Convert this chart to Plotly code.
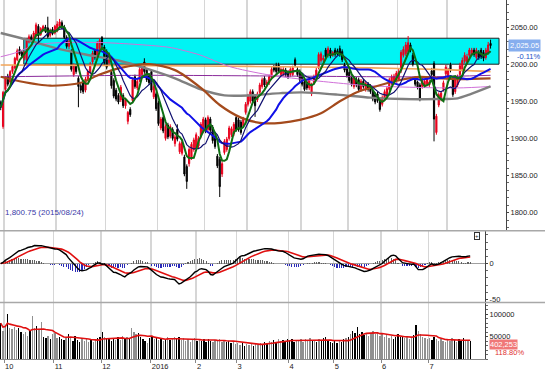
import plotly.graph_objects as go
import pandas as pd

# ---------------- data ----------------
month_labels = ["10", "11", "12", "2016", "2", "3", "4", "5", "6", "7"]
month_start = [2, 24, 45, 67, 87, 105, 128, 148, 169, 190]

opens = [1948, 1916,
         1966, 1984, 1976, 1990, 1995, 2006, 2020, 2016, 2009, 2006, 2030, 2037, 2033, 2038, 2051, 2040, 2046, 2050, 2049, 2039, 2047, 2042,
         2045, 2051, 2056, 2050, 2036, 2024, 2016, 1986, 1997, 1981, 1971, 1975, 1965, 1980, 1989, 2003, 2019, 2012, 2021, 2036, 2023,
         2017, 2002, 1989, 1978, 1965, 1958, 1952, 1958, 1944, 1923, 1939, 1951, 1983, 1968, 1978, 1986, 2003, 1992, 1985, 1990, 1956, 1960,
         1948, 1914, 1928, 1900, 1918, 1903, 1912, 1893, 1912, 1882, 1880, 1875, 1862, 1866, 1874, 1885, 1887, 1890, 1903, 1910,
         1925, 1912, 1926, 1915, 1903, 1876, 1872, 1852, 1881, 1885, 1900, 1905, 1906, 1928, 1925, 1922, 1917, 1935,
         1946, 1950, 1963, 1956, 1952, 1962, 1970, 1981, 1972, 1975, 1982, 1996, 1998, 1999, 1986, 1987, 1992, 1989, 1986, 1986, 2006, 1993, 1990,
         1985, 1976, 1976, 1968, 1960, 1975, 1982, 1995, 2005, 2006, 2019, 2012, 2019, 2012, 2019, 2018, 2021, 2017, 1999, 1994,
         1989, 1982, 1970, 1980, 1979, 1966, 1977, 1966, 1973, 1970, 1963, 1959, 1960, 1952, 1946, 1953, 1957, 1966, 1975, 1976, 1978,
         1980, 1991, 2012, 2014, 2017, 2026, 2012, 1981, 1976, 1972, 1970, 1970, 1973, 1972, 1991, 2001, 1908, 1945, 1953, 1966, 1987,
         1982, 1999, 1979, 1963, 1972, 1986, 1993, 2004, 2003, 2012, 2013, 2019, 2009, 2016, 2019, 2016, 2009, 2016, 2028]
highs = [1951, 1964,
         1984, 1987, 1992, 1999, 2010, 2021, 2024, 2019, 2018, 2035, 2040, 2040, 2045, 2056, 2054, 2050, 2053, 2053, 2064, 2048, 2050, 2053,
         2058, 2061, 2059, 2053, 2039, 2034, 2020, 2001, 2000, 1984, 1974, 1978, 1983, 1993, 2003, 2018, 2021, 2031, 2035, 2038, 2026,
         2020, 2016, 1992, 1981, 1968, 1961, 1972, 1961, 1955, 1937, 1942, 1982, 1986, 1980, 1996, 1998, 2008, 1995, 1988, 1993, 1973, 1963,
         1951, 1929, 1931, 1919, 1921, 1919, 1915, 1905, 1919, 1896, 1898, 1878, 1865, 1888, 1895, 1901, 1908, 1903, 1922, 1929,
         1928, 1931, 1929, 1918, 1906, 1879, 1875, 1869, 1899, 1902, 1917, 1916, 1922, 1931, 1928, 1925, 1929, 1949,
         1960, 1966, 1966, 1959, 1963, 1975, 1982, 1984, 1979, 1986, 1996, 1999, 2002, 2002, 1996, 1996, 1995, 1992, 1996, 1998, 2009, 1996, 1993,
         1988, 1979, 1979, 1982, 1975, 1986, 1995, 2016, 2017, 2012, 2022, 2024, 2022, 2018, 2022, 2021, 2025, 2020, 2002, 1997,
         1992, 1985, 1984, 1983, 1982, 1980, 1980, 1977, 1976, 1973, 1966, 1962, 1963, 1955, 1958, 1966, 1970, 1982, 1986, 1987, 1991,
         1994, 2019, 2024, 2030, 2038, 2029, 2015, 1984, 1978, 1975, 1983, 1980, 1983, 1979, 1995, 2004, 1933, 1962, 1964, 1978, 1999,
         1995, 2002, 1982, 1982, 1986, 2002, 2009, 2016, 2014, 2022, 2022, 2022, 2022, 2019, 2022, 2019, 2022, 2030, 2033]
lows = [1938, 1913,
        1963, 1970, 1974, 1987, 1993, 2004, 2012, 2008, 2005, 2000, 2028, 2029, 2031, 2036, 2030, 2038, 2044, 2042, 2035, 2036, 2039, 2040,
        2043, 2049, 2047, 2034, 2021, 2020, 1990, 1983, 1987, 1942, 1961, 1960, 1962, 1977, 1986, 2000, 2006, 2010, 2018, 2022, 1998,
        1993, 1999, 1967, 1954, 1950, 1946, 1949, 1941, 1940, 1919, 1929, 1948, 1967, 1965, 1976, 1984, 1987, 1976, 1972, 1962, 1953, 1937,
        1917, 1911, 1907, 1897, 1899, 1900, 1897, 1889, 1896, 1879, 1877, 1849, 1832, 1862, 1871, 1882, 1884, 1887, 1900, 1907,
        1907, 1909, 1908, 1893, 1886, 1860, 1821, 1848, 1878, 1882, 1897, 1902, 1903, 1909, 1909, 1905, 1914, 1932,
        1943, 1947, 1947, 1929, 1949, 1959, 1967, 1969, 1969, 1972, 1979, 1989, 1986, 1988, 1983, 1984, 1983, 1980, 1983, 1984, 1996, 1983, 1976,
        1970, 1964, 1965, 1965, 1957, 1972, 1979, 1993, 2002, 2003, 2008, 2009, 2008, 2010, 2010, 2012, 2010, 2003, 1989, 1982,
        1975, 1970, 1967, 1969, 1963, 1963, 1967, 1963, 1963, 1960, 1950, 1946, 1948, 1936, 1943, 1950, 1955, 1963, 1972, 1973, 1975,
        1977, 1988, 2009, 2011, 2014, 2016, 1997, 1970, 1966, 1950, 1967, 1968, 1970, 1969, 1983, 1896, 1905, 1942, 1950, 1963, 1984,
        1979, 1989, 1956, 1960, 1969, 1983, 1990, 2001, 2000, 2009, 2011, 2010, 2007, 2006, 2007, 2004, 2006, 2013, 2021]
closes = [1942, 1962,
          1982, 1973, 1990, 1997, 2008, 2018, 2014, 2011, 2016, 2033, 2037, 2031, 2042, 2053, 2038, 2048, 2051, 2044, 2037, 2046, 2041, 2051,
          2054, 2057, 2050, 2036, 2024, 2031, 1993, 1999, 1990, 1970, 1965, 1963, 1980, 1990, 2000, 2015, 2009, 2028, 2032, 2026, 2002,
          1996, 2013, 1971, 1957, 1953, 1949, 1969, 1944, 1952, 1935, 1932, 1979, 1970, 1977, 1993, 1995, 1990, 1979, 1975, 1965, 1970, 1940,
          1920, 1926, 1910, 1916, 1902, 1916, 1900, 1902, 1899, 1893, 1895, 1852, 1842, 1885, 1892, 1898, 1905, 1900, 1919, 1926,
          1910, 1928, 1911, 1897, 1889, 1863, 1835, 1866, 1896, 1899, 1914, 1913, 1919, 1912, 1912, 1908, 1926, 1946,
          1957, 1963, 1950, 1944, 1960, 1972, 1979, 1972, 1976, 1983, 1993, 1992, 1990, 1990, 1993, 1993, 1986, 1983, 1993, 1995, 1999, 1986, 1979,
          1973, 1966, 1968, 1979, 1972, 1983, 1992, 2013, 2014, 2008, 2010, 2021, 2011, 2016, 2013, 2015, 2014, 2006, 1992, 1985,
          1978, 1973, 1981, 1972, 1966, 1977, 1970, 1974, 1966, 1963, 1953, 1949, 1951, 1939, 1955, 1963, 1967, 1979, 1983, 1984, 1988,
          1990, 2016, 2020, 2026, 2029, 2019, 2000, 1973, 1969, 1953, 1980, 1977, 1980, 1976, 1986, 1926, 1930, 1959, 1961, 1975, 1996,
          1992, 1993, 1959, 1979, 1982, 1998, 2005, 2012, 2010, 2019, 2019, 2013, 2019, 2009, 2010, 2008, 2019, 2026, 2025.05]
volumes = [80000, 62000,
           75000, 101000, 70000, 66000, 72000, 64000, 70000, 60000, 55000, 60000, 52000, 63000, 95000, 70000, 74000, 66000, 82000, 50000, 46000, 52000, 44000, 56000,
           58000, 47000, 50000, 44000, 42000, 46000, 55000, 48000, 40000, 52000, 43000, 38000, 46000, 41000, 44000, 39000, 45000, 37000, 42000, 46000, 48000,
           60000, 50000, 44000, 47000, 40000, 45000, 42000, 48000, 43000, 52000, 47000, 50000, 44000, 68000, 61000, 55000, 58000, 50000, 45000, 40000, 35000, 47000,
           52000, 45000, 49000, 43000, 46000, 40000, 44000, 48000, 42000, 46000, 50000, 44000, 48000, 42000, 46000, 40000, 44000, 38000, 43000, 47000,
           41000, 45000, 40000, 44000, 39000, 45000, 41000, 38000, 43000, 40000, 44000, 38000, 42000, 37000, 41000, 36000, 40000, 34000,
           36000, 32000, 35000, 30000, 34000, 31000, 33000, 29000, 35000, 32000, 36000, 33000, 38000, 35000, 40000, 37000, 42000, 38000, 44000, 40000, 43000, 39000, 45000,
           41000, 44000, 38000, 43000, 40000, 45000, 39000, 44000, 42000, 46000, 40000, 43000, 38000, 44000, 40000, 46000, 48000, 42000, 38000, 36000,
           40000, 35000, 41000, 38000, 44000, 46000, 50000, 56000, 62000, 58000, 72000, 55000, 60000, 54000, 58000, 52000, 57000, 62000, 55000, 60000, 52000,
           58000, 50000, 54000, 46000, 51000, 45000, 49000, 55000, 48000, 52000, 46000, 50000, 44000, 48000, 53000, 76000, 62000, 55000, 50000, 47000, 44000,
           46000, 42000, 48000, 44000, 40000, 45000, 41000, 38000, 44000, 40000, 46000, 42000, 38000, 44000, 40000, 46000, 41000, 43000, 40000]

# long moving averages (bar index, value)
gray_idx = [0, 11, 23, 36, 50, 63, 74, 85, 95, 106, 119, 128, 143, 157, 171, 185, 194, 199, 208]
gray_val = [2042, 2033, 2022, 2013, 2005, 1993, 1981, 1966, 1958, 1958, 1961, 1962, 1959, 1955, 1953, 1953, 1954, 1959, 1970]
brown_idx = [0, 8, 21, 34, 42, 51, 63, 74, 85, 93, 102, 110, 119, 127, 136, 144, 151, 157, 170, 178, 187, 195, 208]
brown_val = [1983, 1977, 1971, 1975, 1986, 1995, 2000, 1992, 1968, 1945, 1928, 1921, 1921, 1925, 1934, 1950, 1962, 1968, 1979, 1983, 1981, 1980, 1981]
magenta_idx = [0, 6, 15, 25, 44, 71, 77, 85, 97, 113, 127, 157, 194, 208]
magenta_val = [2010, 2015, 2026, 2029, 2029, 2023, 2019, 2012, 1997, 1986, 1980, 1971, 1968, 1970]
purple_idx = [0, 60, 120, 180, 208]
purple_val = [1983, 1985, 1984, 1983, 1985]
orange_idx = [0, 63, 106, 157, 185, 208]
orange_val = [1999, 1998, 1997, 1995, 1993, 1990]

box_low, box_high = 2000, 2035
box_start = 9.8

# ---------------- derived indicators ----------------
idx = list(range(len(closes)))
cs = pd.Series(closes, dtype=float)
ma5 = cs.rolling(5, min_periods=1).mean()
ma10 = cs.rolling(10, min_periods=1).mean()
ma25 = cs.rolling(25, min_periods=1).mean()
ema_fast = cs.ewm(span=12, adjust=False).mean()
ema_slow = cs.ewm(span=26, adjust=False).mean()
macd = ema_fast - ema_slow
signal = macd.ewm(span=9, adjust=False).mean()
hist = macd - signal
vol_ma = pd.Series(volumes, dtype=float).rolling(10, min_periods=1).mean()

H, W = 382, 545
def py(px):  # pixel row -> paper y
    return 1 - px / H

main_dom = [py(232), 1]
macd_dom = [py(304), py(232)]
vol_dom = [py(361), py(304)]
xr = [-0.3, 214.56]
grid_pos = [m - 0.5 for m in month_start]

fig = go.Figure()
fig.add_trace(go.Candlestick(
    x=idx, open=opens, high=highs, low=lows, close=closes,
    increasing=dict(line=dict(color="#e8001c", width=1), fillcolor="#e8001c"),
    decreasing=dict(line=dict(color="#000000", width=1), fillcolor="#000000"),
    whiskerwidth=0, xaxis="x", yaxis="y", hoverinfo="skip"))

def line(xs, ys, color, width, shape="linear"):
    fig.add_trace(go.Scatter(x=xs, y=ys, mode="lines",
                             line=dict(color=color, width=width, shape=shape, smoothing=0.8),
                             xaxis="x", yaxis="y", hoverinfo="skip"))

line(orange_idx, orange_val, "#f2a65a", 1.6, "spline")
line(purple_idx, purple_val, "#8a2a9a", 1.0, "spline")
line(magenta_idx, magenta_val, "#d070d8", 1.0, "spline")
line(gray_idx, gray_val, "#808080", 2.4, "spline")
line(brown_idx, brown_val, "#a44a1c", 2.2, "spline")
line(idx, ma25, "#1010e8", 2.0)
line(idx, ma10, "#101070", 1.2)
line(idx, ma5, "#0e6e12", 2.0)

# MACD panel
fig.add_trace(go.Bar(x=idx, y=hist, width=0.5,
                     marker=dict(color=["#606060" if v >= 0 else "#2a2ab8" for v in hist], line=dict(width=0)),
                     xaxis="x2", yaxis="y2", hoverinfo="skip"))
fig.add_trace(go.Scatter(x=idx, y=signal, mode="lines", line=dict(color="#e01010", width=1.6),
                         xaxis="x2", yaxis="y2", hoverinfo="skip"))
fig.add_trace(go.Scatter(x=idx, y=macd, mode="lines", line=dict(color="#000000", width=1.4),
                         xaxis="x2", yaxis="y2", hoverinfo="skip"))

# volume panel
vcol = ["#000000" if c < o else "#909090" for o, c in zip(opens, closes)]
fig.add_trace(go.Bar(x=idx, y=volumes, width=0.6, marker=dict(color=vcol, line=dict(width=0)),
                     xaxis="x3", yaxis="y3", hoverinfo="skip"))
fig.add_trace(go.Scatter(x=idx, y=vol_ma, mode="lines", line=dict(color="#e01010", width=1.6),
                         xaxis="x3", yaxis="y3", hoverinfo="skip"))

FONT = "Liberation Sans, Arial, sans-serif"
tickfont = dict(family=FONT, size=7.5, color="#222222")
grid = dict(showgrid=True, gridcolor="#d6d6d6", gridwidth=1.5, tickvals=grid_pos, zeroline=False)

fig.update_layout(
    width=W, height=H, margin=dict(l=0, r=0, t=0, b=0),
    paper_bgcolor="white", plot_bgcolor="white", showlegend=False, bargap=0,
    xaxis=dict(domain=[0, 506 / W], range=xr, anchor="y", showticklabels=False, ticks="",
               rangeslider=dict(visible=False), **grid),
    xaxis2=dict(domain=[0, 485 / W], range=xr, anchor="y2", showticklabels=False, ticks="", **grid),
    xaxis3=dict(domain=[0, 485 / W], range=xr, anchor="y3", showticklabels=True, ticktext=month_labels,
                ticks="outside", ticklen=3, tickcolor="#888", ticklabelposition="outside right",
                tickfont=dict(family=FONT, size=7.5, color="#222222"),
                showline=True, linecolor="#888", linewidth=1, **grid),
    yaxis=dict(domain=main_dom, range=[1775.5, 2086.5], side="right", anchor="x",
               tickvals=[1800, 1850, 1900, 1950, 2000, 2050], tickformat=".2f",
               ticks="outside", ticklen=2, tickcolor="#444", tickfont=tickfont,
               minor=dict(dtick=10, ticks="outside", ticklen=2, tickcolor="#666"),
               showgrid=False, zeroline=False, showline=True, linecolor="#444", linewidth=1),
    yaxis2=dict(domain=macd_dom, range=[-54.2, 45.8], side="right", anchor="x2",
                tickvals=[-50, 0], ticktext=["-50", "0"], ticks="outside", ticklen=2, tickcolor="#444",
                tickfont=tickfont, minor=dict(dtick=10, ticks="outside", ticklen=2, tickcolor="#666"),
                showgrid=False, zeroline=True, zerolinecolor="#a0a0a0", zerolinewidth=1.2,
                showline=True, linecolor="#444", linewidth=1),
    yaxis3=dict(domain=vol_dom, range=[0, 125800], side="right", anchor="x3",
                tickvals=[50000, 100000], tickformat="d", ticks="outside", ticklen=2, tickcolor="#444",
                tickfont=tickfont, minor=dict(dtick=10000, ticks="outside", ticklen=2, tickcolor="#666"),
                showgrid=False, zeroline=False, showline=True, linecolor="#444", linewidth=1),
)

shapes = [
    dict(type="rect", xref="x", yref="y", x0=box_start, x1=211.6, y0=box_low, y1=box_high,
         fillcolor="#00f4f4", line=dict(color="#202020", width=1), layer="between"),
    dict(type="line", xref="paper", yref="paper", x0=0, x1=1, y0=py(232), y1=py(232),
         line=dict(color="#a8a8a8", width=1.5)),
    dict(type="line", xref="paper", yref="paper", x0=0, x1=1, y0=py(304), y1=py(304),
         line=dict(color="#a8a8a8", width=1.5)),
]
fig.update_layout(shapes=shapes)

last_price = closes[-1]
annots = [
    dict(xref="paper", yref="y", x=0.006, y=1800.75, text="1,800.75 (2015/08/24)", showarrow=False,
         xanchor="left", font=dict(family=FONT, size=8, color="#3a3aa8")),
    dict(xref="paper", yref="y", x=508 / W, y=last_price, text=f"{last_price:,.2f}", showarrow=False,
         xanchor="left", bgcolor="#86aeee", borderpad=1,
         font=dict(family=FONT, size=7.5, color="white")),
    dict(xref="paper", yref="y", x=515 / W, y=2010.5, text="-0.11%", showarrow=False,
         xanchor="left", font=dict(family=FONT, size=7.5, color="#2050c8")),
    dict(xref="paper", yref="y3", x=489 / W, y=33500, text="402,253", showarrow=False,
         xanchor="left", bgcolor="#f07878", borderpad=0,
         font=dict(family=FONT, size=7.5, color="white")),
    dict(xref="paper", yref="y3", x=493 / W, y=14500, text="118.80%", showarrow=False,
         xanchor="left", font=dict(family=FONT, size=7.5, color="#e03030")),
    dict(xref="paper", yref="paper", x=480 / W, y=py(237.5), text="+", showarrow=False,
         bordercolor="#333", borderwidth=1, borderpad=0, bgcolor="white",
         font=dict(family=FONT, size=6, color="#222")),
]
fig.update_layout(annotations=annots)

fig.write_html(
    "out.html",
    config={"displayModeBar": False, "staticPlot": True},
    post_script=("document.documentElement.style.margin='0';document.body.style.margin='0';"
                 "document.body.style.padding='0';document.body.style.overflow='hidden';"
                 "document.documentElement.style.overflow='hidden';"),
)
